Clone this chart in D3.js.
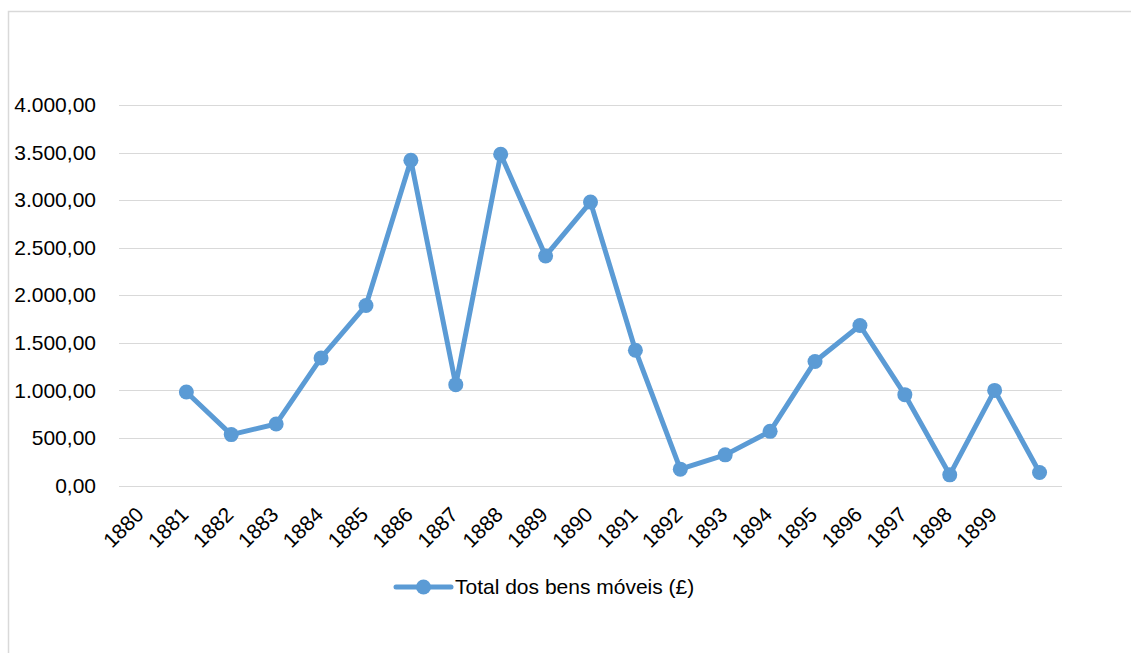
<!DOCTYPE html>
<html lang="pt">
<meta charset="utf-8">
<style>
body { margin: 0; background: #fff; }
svg text { font-family: "Liberation Sans", Arial, sans-serif; fill: #000; }
.grid line { stroke: #d9d9d9; stroke-width: 1.5; shape-rendering: crispEdges; }
</style>
<body>
<svg width="1131" height="653"></svg>
<script src="https://d3js.org/d3.v7.min.js"></script>
<script>

// category slots as the workbook has them (the last slot carries no label)
var years = ["1880", "1881", "1882", "1883", "1884", "1885", "1886", "1887", "1888", "1889",
             "1890", "1891", "1892", "1893", "1894", "1895", "1896", "1897", "1898", "1899", ""];
var totals = [null, 983, 535, 647, 1341, 1893, 3419, 1060, 3482, 2413,
              2979, 1422, 172, 322, 569, 1304, 1682, 955, 112, 1000, 136];
var yTicks = [0, 500, 1000, 1500, 2000, 2500, 3000, 3500, 4000];
var seriesName = "Total dos bens móveis (£)";

var blue = "#5b9bd5";

var svg = d3.select("svg");

// chart frame
svg.append("rect")
    .attr("x", 8.5).attr("y", 11.5)
    .attr("width", 1140).attr("height", 660)
    .attr("fill", "none")
    .attr("stroke", "#d9d9d9")
    .attr("stroke-width", 1.5);

var x = d3.scaleBand()
    .domain(d3.range(years.length))
    .range([119, 1062]);

var y = d3.scaleLinear()
    .domain([0, 4000])
    .range([485.5, 105]);

var fmt = function(d) {
  return d3.format(",.2f")(d).replace(/,/g, "#").replace(".", ",").replace(/#/g, ".");
};

// gridlines
svg.append("g")
    .attr("class", "grid")
  .selectAll("line")
  .data(yTicks)
  .enter().append("line")
    .attr("x1", 119).attr("x2", 1062)
    .attr("y1", function(d) { return Math.round(y(d)) + 0.5; })
    .attr("y2", function(d) { return Math.round(y(d)) + 0.5; });

// y axis labels
var yAxis = d3.axisLeft(y)
    .tickValues(yTicks)
    .tickSize(0)
    .tickPadding(0)
    .tickFormat(fmt);

svg.append("g")
    .attr("transform", "translate(96,0)")
    .call(yAxis)
    .call(function(g) { g.select(".domain").remove(); })
    .selectAll("text")
    .attr("font-size", 21)
    .attr("font-family", "Liberation Sans, Arial, sans-serif");

// x axis labels, rotated
var xg = svg.append("g");
xg.selectAll("text")
  .data(years)
  .enter().append("text")
    .attr("transform", function(d, i) {
      return "translate(" + (x(i) + x.bandwidth() / 2 + 3.5) + ",516) rotate(-45)";
    })
    .attr("text-anchor", "end")
    .attr("font-size", 21)
    .text(function(d) { return d; });

// series
var pts = totals.map(function(v, i) { return { i: i, v: v }; })
    .filter(function(d) { return d.v != null; });

var line = d3.line()
    .x(function(d) { return x(d.i) + x.bandwidth() / 2; })
    .y(function(d) { return y(d.v); });

svg.append("path")
    .datum(pts)
    .attr("fill", "none")
    .attr("stroke", blue)
    .attr("stroke-width", 5)
    .attr("stroke-linejoin", "round")
    .attr("d", line);

svg.append("g")
  .selectAll("circle")
  .data(pts)
  .enter().append("circle")
    .attr("cx", function(d) { return x(d.i) + x.bandwidth() / 2; })
    .attr("cy", function(d) { return y(d.v); })
    .attr("r", 7.5)
    .attr("fill", blue);

// legend
var lg = svg.append("g").attr("transform", "translate(0,587)");
lg.append("line")
    .attr("x1", 396).attr("x2", 451)
    .attr("stroke", blue)
    .attr("stroke-width", 5)
    .attr("stroke-linecap", "round");
lg.append("circle")
    .attr("cx", 423.5).attr("r", 7.5)
    .attr("fill", blue);
lg.append("text")
    .attr("x", 455)
    .attr("dy", "0.35em")
    .attr("font-size", 21)
    .text(seriesName);

</script>
</body>
</html>
